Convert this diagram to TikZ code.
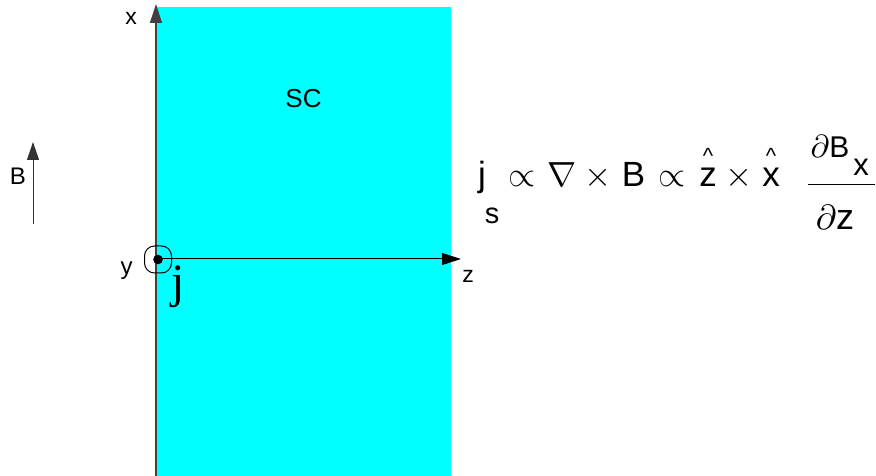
\documentclass[tikz,border=0pt]{standalone}
\usepackage{graphicx}
\usepackage{fontspec}
\setmainfont{Liberation Sans}
\newfontfamily\seriffont{Liberation Serif}
\usetikzlibrary{arrows.meta}
\definecolor{sccyan}{RGB}{0,255,255}
\newcommand{\fs}[1]{\fontsize{#1bp}{#1bp}\selectfont}
\newcommand{\scmath}[2]{\scalebox{#1}{$#2$}}
\begin{document}
\begin{tikzpicture}[x=1bp,y=-1bp,
  lbl/.style={inner sep=0pt,outer sep=0pt,anchor=base},
  axisline/.style={line width=1.2bp,-{Triangle[length=19bp,width=12bp]}},
]
\useasboundingbox (0,0) rectangle (876,476);
% superconductor
\fill[sccyan] (157,7) rectangle (451,476);
% x axis
\coordinate (xb) at (156,476);
\coordinate (xt) at (156,4);
\draw[axisline,draw=black!75] (xb) -- (xt);
\node[lbl] (xl) at (131,25) {\fs{23}x};
% z axis
\coordinate (zb) at (158,259);
\coordinate (zt) at (461,259);
\draw[axisline,line width=1bp] (zb) -- (zt);
\node[lbl] (zl) at (468,283) {\fs{23}z};
% y out of page
\node[draw,line width=1bp,rounded corners=10bp,minimum size=27bp,inner sep=0pt] (ybox) at (158,259.5) {};
\fill (ybox.center) circle (4.8bp);
\node[lbl] (yl) at (126.5,275) {\fs{24}y};
\node[lbl] (jl) at (178,298) {\fs{48}\seriffont j};
% SC
\node[lbl] (sc) at (303.5,108) {\fs{26}SC};
% B arrow
\coordinate (bb) at (33,224);
\coordinate (bt) at (33,142);
\draw[line width=1bp,draw=black!80,-{Triangle[length=18bp,width=12bp]}] (bb) -- (bt);
\node[lbl] (bl) at (18,185) {\fs{24}B};
% equation
\node[lbl] (ej) at (482,187) {\fs{35}j};
\node[lbl] (es) at (492,224) {\fs{29}s};
\node[lbl] (ep1) at (522.5,187) {\scmath{3.5}{\propto}};
\node[lbl] (enab) at (562,187) {\scmath{3.5}{\nabla}};
\node[lbl] (et1) at (598.5,187) {\scmath{3.5}{\times}};
\node[lbl] (eB) at (633.5,187) {\fs{35}B};
\node[lbl] (ep2) at (672,187) {\scmath{3.5}{\propto}};
\node[lbl] (ez) at (708,187) {\fs{35}z};
\node[lbl] (ezh) at (708,164) {\fs{22}\char"5E};
\node[lbl] (et2) at (739,187) {\scmath{3.5}{\times}};
\node[lbl] (ex) at (771,187) {\fs{35}x};
\node[lbl] (exh) at (771,164) {\fs{22}\char"5E};
% fraction
\node[lbl] (num) at (830,158) {\scmath{3.2}{\partial}\fs{30}B};
\node[lbl] (numx) at (861,176) {\fs{31}x};
\coordinate (fl) at (808,185);
\coordinate (fr) at (875,185);
\draw[line width=1bp] (fl) -- (fr);
\node[lbl] (den) at (835,230) {\scmath{3.5}{\partial}\fs{36}z};
\end{tikzpicture}
\end{document}
